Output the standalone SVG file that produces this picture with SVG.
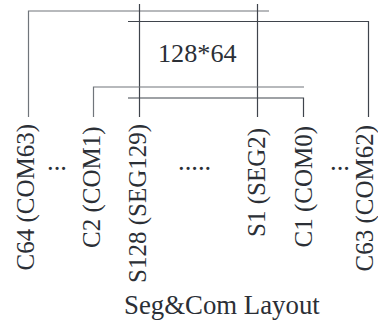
<svg xmlns="http://www.w3.org/2000/svg" width="378" height="323" viewBox="0 0 378 323">
<style>
text{font-family:"Liberation Serif","Times New Roman",serif;font-size:26.5px;fill:#2b2f36}
.v{font-size:25px}
.w{fill:none;stroke:#3f444c;stroke-width:1.2}
.g{fill:none;stroke:#70757b;stroke-width:1.2}
</style>
<rect width="378" height="323" fill="#fff"/>
<g id="connectors">
<path class="g" d="M269 11H28.5V117"/>
<path class="w" d="M128 21.5H368.5V117"/>
<path class="w" d="M139.5 4V117"/>
<path class="w" d="M257.5 4V117"/>
<path class="g" d="M304 87H93.5V117"/>
<path class="w" d="M128 98H303.5V117"/>
</g>
<g id="panel"><text x="158" y="62" style="font-size:26.2px">128*64</text></g>
<g id="c64"><text class="v" transform="translate(34 270.5) rotate(-90)">C64 (COM63)</text></g>
<g id="dots1"><text x="47" y="170">...</text></g>
<g id="c2"><text class="v" transform="translate(100 248) rotate(-90)">C2 (COM1)</text></g>
<g id="s128"><text class="v" transform="translate(146 283) rotate(-90)">S128 (SEG129)</text></g>
<g id="dots2"><text x="178" y="170">.....</text></g>
<g id="s1"><text class="v" transform="translate(265 237) rotate(-90)">S1 (SEG2)</text></g>
<g id="c1"><text class="v" transform="translate(312 247.5) rotate(-90)">C1 (COM0)</text></g>
<g id="dots3"><text x="330" y="170">...</text></g>
<g id="c63"><text class="v" transform="translate(372.5 271.5) rotate(-90)">C63 (COM62)</text></g>
<g id="caption"><text x="124" y="314" style="font-size:26.8px">Seg&amp;Com Layout</text></g>
</svg>
